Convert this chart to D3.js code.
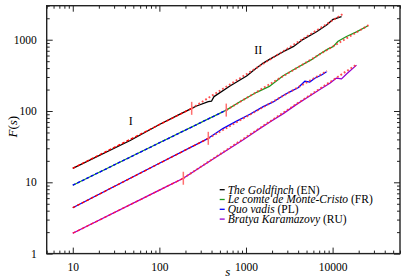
<!DOCTYPE html>
<html>
<head>
<meta charset="utf-8">
<script src="https://cdn.jsdelivr.net/npm/d3@7"></script>
<style>
  body { margin: 0; background: #fff; }
  text { font-family: "Liberation Serif", "Times New Roman", serif; }
</style>
</head>
<body>
<svg width="407" height="279"></svg>
<script>
const svg = d3.select("svg");
const margin = { top: 5.7, right: 7, bottom: 25.4, left: 46.7 };
const width = +svg.attr("width") - margin.left - margin.right;
const height = +svg.attr("height") - margin.top - margin.bottom;

// books and languages
const titles = ["The Goldfinch", "Le comte de Monte-Cristo", "Quo vadis", "Bratya Karamazovy"];
const langs = ["EN", "FR", "PL", "RU"];

// F(s) curves
const enS = [10, 46, 100, 160, 236, 269, 367, 401, 427, 653, 1016, 1268, 1581, 1889, 2692, 3508, 4575, 6530, 8520, 10140, 12680];
const enF = [15.7, 38.6, 64.7, 86, 109, 117.6, 135, 138, 159, 224, 310, 385, 470, 535, 679, 798, 1013, 1295, 1607, 1932, 2104];

const frS = [10, 100, 592, 851, 1326, 1888, 2686, 3835, 5714, 7120, 8880, 10140, 11570, 14460, 18870, 25660];
const frF = [9.1, 35.9, 103, 135, 183, 224, 312, 401, 525, 630, 745, 800, 950, 1110, 1290, 1571];

const plS = [10, 100, 367, 546, 779, 1110, 1581, 2063, 2692, 3206, 4000, 4777, 5458, 6234, 7450, 8510];
const plF = [4.4, 18.5, 41.4, 57.2, 72, 90, 115, 134, 165, 186, 212, 262, 255, 288, 320, 356];

const ruS = [10, 100, 189, 384, 929, 1326, 1888, 2692, 3835, 5000, 7120, 9290, 11090, 12680, 14460, 18870];
const ruF = [1.93, 7.78, 11.4, 19.9, 39.5, 53, 70, 92, 124, 152, 200, 245, 290, 282, 330, 440];

// power-law fits: regime I and regime II, [s0, F0, s1, F1]
const fitI = [[10, 15.7, 236, 109], [10, 9.1, 592, 103], [10, 4.4, 367, 41.4], [10, 1.93, 189, 11.4]];
const fitII = [[236, 109, 13000, 2280], [592, 103, 26000, 1600], [367, 41.4, 8600, 365], [189, 11.4, 19000, 450]];

const xTicks = [10, 100, 1000, 10000];
const xTickLabels = ["10", "100", "1000", "10000"];
const yTicks = [1, 10, 100, 1000];
const yTickLabels = ["1", "10", "100", "1000"];

const colours = ["#000000", "#1f9a1f", "#0000ff", "#9400d3"];
const fitIColours = ["#ff0000", "#0000ff", "#ff0000", "#ff1050"];

const curves = [[enS, enF], [frS, frF], [plS, plF], [ruS, ruF]]
    .map(([s, f]) => s.map((v, i) => [v, f[i]]));

const x = d3.scaleLog().domain([5, 60000]).range([0, width]);
const y = d3.scaleLog().domain([1, 3000]).range([height, 0]);

const g = svg.append("g").attr("transform", `translate(${margin.left},${margin.top})`);

const line = d3.line().x(d => x(d[0])).y(d => y(d[1]));

// data curves
g.append("g").selectAll("path")
    .data(curves)
    .join("path")
    .attr("d", line)
    .attr("fill", "none")
    .attr("stroke", (d, i) => colours[i])
    .attr("stroke-width", 1.3)
    .attr("stroke-linejoin", "round");

// regime I fits, dashed
g.append("g").selectAll("path")
    .data(fitI)
    .join("path")
    .attr("d", d => line([[d[0], d[1]], [d[2], d[3]]]))
    .attr("fill", "none")
    .attr("stroke", (d, i) => fitIColours[i])
    .attr("stroke-width", 1.4)
    .attr("stroke-dasharray", "3,2");

// regime II fits, dotted
g.append("g").selectAll("path")
    .data(fitII)
    .join("path")
    .attr("d", d => line([[d[0], d[1]], [d[2], d[3]]]))
    .attr("fill", "none")
    .attr("stroke", "#ff3030")
    .attr("stroke-opacity", 0.85)
    .attr("stroke-width", 1.9)
    .attr("stroke-dasharray", "1.8,2.2");

// crossover marks
g.append("g").selectAll("line")
    .data(fitII)
    .join("line")
    .attr("x1", d => x(d[0]))
    .attr("x2", d => x(d[0]))
    .attr("y1", d => y(d[1]) - 6.5)
    .attr("y2", d => y(d[1]) + 6.5)
    .attr("stroke", "#ff7070")
    .attr("stroke-width", 1.5);

// regime labels
g.append("text").attr("x", 84).attr("y", 119.5).attr("font-size", 12).attr("text-anchor", "middle").text("I");
g.append("text").attr("x", 211.6).attr("y", 48.5).attr("font-size", 12).attr("text-anchor", "middle").text("II");

// axes, ticks pointing inwards on all four sides
const minorX = x.ticks().filter(v => !xTicks.includes(v));
const minorY = y.ticks().filter(v => !yTicks.includes(v));

function styleAxis(sel) {
    sel.select(".domain").remove();
    sel.selectAll("line").attr("stroke", "#222").attr("stroke-width", 1);
    sel.selectAll("text").attr("font-size", 11.5).attr("fill", "#000")
        .style("font-family", "'Liberation Serif', serif");
}

g.append("g").attr("transform", `translate(0,${height})`)
    .call(d3.axisBottom(x).tickValues(xTicks).tickFormat((d, i) => xTickLabels[i]).tickSize(-6).tickPadding(9))
    .call(styleAxis);
g.append("g").attr("transform", `translate(0,${height})`)
    .call(d3.axisBottom(x).tickValues(minorX).tickFormat("").tickSize(-3))
    .call(styleAxis);
g.append("g")
    .call(d3.axisTop(x).tickValues(xTicks).tickFormat("").tickSize(-6))
    .call(styleAxis);
g.append("g")
    .call(d3.axisTop(x).tickValues(minorX).tickFormat("").tickSize(-3))
    .call(styleAxis);

g.append("g")
    .call(d3.axisLeft(y).tickValues(yTicks).tickFormat((d, i) => yTickLabels[i]).tickSize(-6).tickPadding(10))
    .call(styleAxis);
g.append("g")
    .call(d3.axisLeft(y).tickValues(minorY).tickFormat("").tickSize(-3))
    .call(styleAxis);
g.append("g").attr("transform", `translate(${width},0)`)
    .call(d3.axisRight(y).tickValues(yTicks).tickFormat("").tickSize(-6))
    .call(styleAxis);
g.append("g").attr("transform", `translate(${width},0)`)
    .call(d3.axisRight(y).tickValues(minorY).tickFormat("").tickSize(-3))
    .call(styleAxis);

g.append("rect")
    .attr("width", width).attr("height", height)
    .attr("fill", "none").attr("stroke", "#222").attr("stroke-width", 1.4);

// axis titles
g.append("text")
    .attr("x", 181).attr("y", height + 22)
    .attr("font-size", 13).attr("font-style", "italic").attr("text-anchor", "middle")
    .text("s");
const yTitle = g.append("text")
    .attr("transform", `translate(-30,${height / 2 - 3}) rotate(-90)`)
    .attr("font-size", 13).attr("text-anchor", "middle");
yTitle.append("tspan").attr("font-style", "italic").text("F");
yTitle.append("tspan").text("(");
yTitle.append("tspan").attr("font-style", "italic").text("s");
yTitle.append("tspan").text(")");

// legend
const legend = g.append("g").attr("transform", "translate(173,184)");
const rows = legend.selectAll("g")
    .data(titles)
    .join("g")
    .attr("transform", (d, i) => `translate(0,${i * 9.8})`);
rows.append("line")
    .attr("x1", 0).attr("x2", 5)
    .attr("stroke", (d, i) => colours[i]).attr("stroke-width", 1.3);
const labels = rows.append("text")
    .attr("x", 8).attr("y", 3.8)
    .attr("font-size", 11.5);
labels.append("tspan").attr("font-style", "italic").text(d => d);
labels.append("tspan").text((d, i) => ` (${langs[i]})`);
</script>
</body>
</html>
